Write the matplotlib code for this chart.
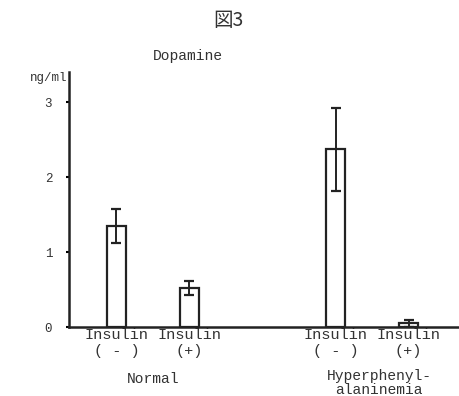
import matplotlib
matplotlib.use("Agg")
import matplotlib.pyplot as plt

categories = ["Insulin\n( - )", "Insulin\n(+)", "Insulin\n( - )", "Insulin\n(+)"]
positions = [0, 1, 3, 4]
values = [1.35, 0.52, 2.37, 0.05]
errors = [0.23, 0.09, 0.55, 0.05]
groups = ["Normal", "Hyperphenyl-\nalaninemia"]
yticks = [0, 1, 2, 3]

mono = "Liberation Mono"
fig = plt.figure(figsize=(4.59, 3.96), dpi=100)
ax = fig.add_axes([0.150, 0.174, 0.85, 0.644])

ax.bar(positions, values, width=0.26, color="white", edgecolor="#222222", linewidth=1.6)
ax.errorbar(positions, values, yerr=errors, fmt="none", ecolor="#222222",
            elinewidth=1.4, capsize=3.5, capthick=1.6)

ax.set_xlim(-0.65, 4.69)
ax.set_ylim(0, 3.4)
ax.spines["top"].set_visible(False)
ax.spines["right"].set_visible(False)
for s in ("left", "bottom"):
    ax.spines[s].set_linewidth(1.8)
    ax.spines[s].set_color("#222222")

ax.set_yticks(yticks)
ax.set_yticklabels([str(t) for t in yticks], family=mono, fontsize=9, color="#333333")
ax.tick_params(axis="y", length=2, width=1.5, pad=10)
ax.set_xticks(positions)
ax.set_xticklabels(categories, family=mono, fontsize=11, color="#333333", linespacing=1.15)
ax.tick_params(axis="x", length=0, pad=1)

ax.text(0.5, -0.175, groups[0], transform=ax.get_xaxis_transform(), family=mono,
        fontsize=10.5, color="#333333", ha="center", va="top")
ax.text(3.6, -0.165, groups[1], transform=ax.get_xaxis_transform(), family=mono,
        fontsize=10.5, color="#333333", ha="center", va="top", linespacing=0.95)

fig.text(0.41, 0.848, "Dopamine", family=mono, fontsize=10.5, color="#333333", ha="center")
fig.text(0.065, 0.795, "ng/ml", family=mono, fontsize=9, color="#333333", ha="left")
fig.text(0.497, 0.935, "図3", family=["Noto Sans CJK JP", "DejaVu Sans"], fontsize=14,
         color="#333333", ha="center")

fig.savefig("out.png", dpi=100)
